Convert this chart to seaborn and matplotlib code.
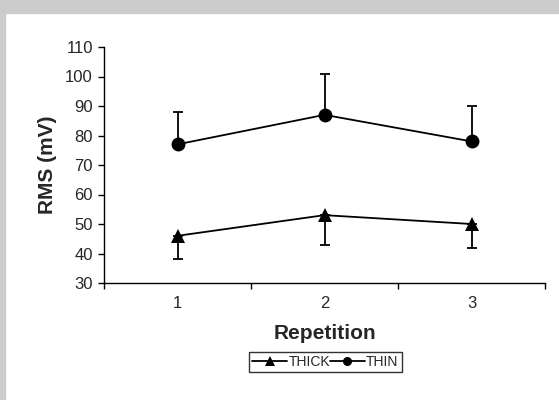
import seaborn as sns
import numpy as np
import pandas as pd
import matplotlib.pyplot as plt
from matplotlib.patches import Rectangle
from matplotlib.ticker import FixedLocator

# Data
repetition = [1, 2, 3]
thick_mean = [46, 53, 50]
thick_err_low = [8, 10, 8]      # error bars drawn downward only
thin_mean = [77, 87, 78]
thin_err_high = [11, 14, 12]    # error bars drawn upward only

df = pd.DataFrame({
    'Repetition': repetition * 2,
    'RMS': thick_mean + thin_mean,
    'Group': ['THICK'] * 3 + ['THIN'] * 3,
})

sns.set_style('white')
plt.rcParams['font.family'] = ['Liberation Sans', 'DejaVu Sans']

fig = plt.figure(figsize=(5.59, 4.0), dpi=100)
# gray frame at top and left edges
fig.patches.append(Rectangle((0, 1 - 13 / 400), 1, 13 / 400, transform=fig.transFigure,
                             color='#cccccc', zorder=0))
fig.patches.append(Rectangle((0, 0), 5 / 559, 1, transform=fig.transFigure,
                             color='#cccccc', zorder=0))

ax = fig.add_axes([104 / 559, 1 - 283 / 400, (545 - 104) / 559, (283 - 47) / 400])
ax.patch.set_alpha(0)

# error bars (one-sided)
ax.errorbar(repetition, thick_mean, yerr=[thick_err_low, [0, 0, 0]], fmt='none',
            ecolor='black', elinewidth=1.3, capsize=3.5, capthick=1.3, zorder=2)
ax.errorbar(repetition, thin_mean, yerr=[[0, 0, 0], thin_err_high], fmt='none',
            ecolor='black', elinewidth=1.3, capsize=3.5, capthick=1.3, zorder=2)

sns.lineplot(data=df, x='Repetition', y='RMS', hue='Group', style='Group',
             palette={'THICK': 'black', 'THIN': 'black'},
             markers={'THICK': '^', 'THIN': 'o'}, dashes=False,
             markersize=10, markeredgewidth=0, linewidth=1.3, ax=ax, zorder=3)

ax.set_xlim(0.5, 3.5)
ax.set_ylim(30, 110)
ax.set_yticks(np.arange(30, 111, 10))
ax.set_xticks(repetition)
ax.xaxis.set_minor_locator(FixedLocator([0.5, 1.5, 2.5, 3.5]))
ax.tick_params(axis='x', which='major', length=0, labelsize=12, pad=9)
ax.tick_params(axis='x', which='minor', length=4, width=1, direction='out', color='black', bottom=True)
ax.tick_params(axis='y', which='major', length=4, width=1, direction='out', color='black',
               left=True, labelsize=12, pad=4)

for s in ['top', 'right']:
    ax.spines[s].set_visible(False)
for s in ['left', 'bottom']:
    ax.spines[s].set_color('black')
    ax.spines[s].set_linewidth(1)

ax.set_xlabel('Repetition', fontsize=15, fontweight='bold', labelpad=10)
ax.set_ylabel('RMS (mV)', fontsize=15, fontweight='bold', labelpad=6)

handles, labels = ax.get_legend_handles_labels()
leg = fig.legend(handles, labels, loc='center', bbox_to_anchor=(325.5 / 559, 1 - 362 / 400),
                 ncol=2, frameon=True, fancybox=False, edgecolor='black', fontsize=10,
                 handlelength=2.5, handletextpad=0.1, columnspacing=0.0, borderpad=0.25,
                 borderaxespad=0, markerscale=0.65)
leg.get_frame().set_linewidth(1)
ax.get_legend().remove()

fig.savefig('out.png', dpi=100)
